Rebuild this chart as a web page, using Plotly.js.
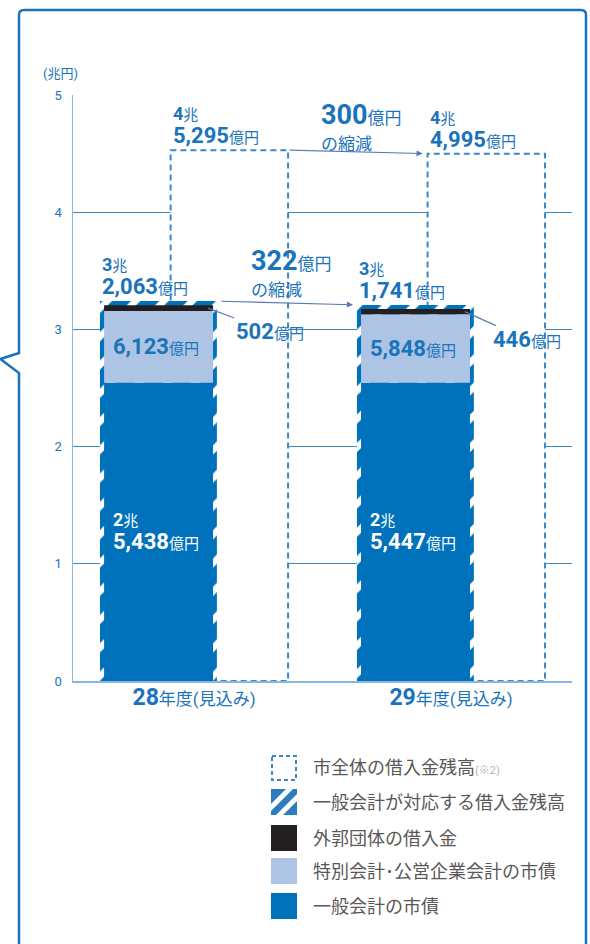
<!DOCTYPE html>
<html><head><meta charset="utf-8">
<script src="https://cdn.plot.ly/plotly-3.0.1.min.js"></script>
<style>html,body{margin:0;padding:0;background:#fff;} #chart{width:590px;height:944px;}</style>
</head><body><div id="chart"></div>
<script>
// ---- data (兆円) ----
const categories = ['28', '29'];
const categorySuffix = '年度(見込み)';
const cityTotal = [4.5295, 4.4995];       // 市全体の借入金残高
const generalBonds = [2.5438, 2.5447];    // 一般会計の市債
const specialBonds = [0.6123, 0.5848];    // 特別会計・公営企業会計の市債
const affiliateLoans = [0.0502, 0.0446];  // 外郭団体の借入金
const yTicks = [0, 1, 2, 3, 4, 5];
const legendLabels = ['市全体の借入金残高', '一般会計が対応する借入金残高', '外郭団体の借入金', '特別会計･公営企業会計の市債', '一般会計の市債'];
const legendNote = '(※2)';
const unitLabel = '(兆円)';

// ---- styles ----
const BLUE = '#0071bb', LIGHT = '#adc4e5', BLACK = '#231f20', TBLUE = '#1a74bb';
const GRID = '#3b87c8', AXIS = '#8ab6e0', ARROW = '#5b79b9', GREY = '#595757';
const FONT = 'Roboto, "Noto Sans CJK JP", sans-serif';
const W = 590, H = 944, PL = 73, PR = 572, PT = 95, PB = 681;
const XR = [-0.471, 1.471];
const hOff = -0.366, hW = 0.455;   // hatched outline bar
const iOff = -0.350, iW = 0.424;   // inner stacked bars
const dOff = -0.091, dW = 0.457;   // dashed total box
const hatchPad = 0.035;

const idx = categories.map((c, i) => i);
const generalTotal = idx.map(i => generalBonds[i] + specialBonds[i] + affiliateLoans[i]);
const baseSpecial = idx.map(i => generalBonds[i]);
const baseAff = idx.map(i => generalBonds[i] + specialBonds[i]);

const px = p => (p - PL) / (PR - PL);
const py = p => (PB - p) / (PB - PT);

function chou(v) { return Math.floor(v + 1e-9); }
function oku(v) { return Math.round((v - chou(v)) * 10000); }
function fmt(n) { return n.toLocaleString('en-US'); }
const S = (size, t, bold) => `<span style="font-size:${size}px">${bold ? '<b>' + t + '</b>' : t}</span>`;
function fullLabel(v, big) {
  return S(18, chou(v), true) + S(15, '兆') + '<br>' + S(big, fmt(oku(v)), true) + S(15, '億円');
}

const traces = [
  { type: 'bar', name: '市全体の借入金残高', x: idx, y: cityTotal, offset: dOff, width: dW,
    marker: { color: 'rgba(255,255,255,0)' }, showlegend: false, hoverinfo: 'y' },
  { type: 'bar', name: '一般会計が対応する借入金残高', x: idx, y: generalTotal.map(v => v + hatchPad),
    customdata: generalTotal, hovertemplate: '%{customdata:.4f}<extra></extra>',
    offset: hOff, width: hW, showlegend: false,
    marker: { color: BLUE, line: { width: 0 }, pattern: { shape: '/', fgcolor: BLUE, bgcolor: '#ffffff', size: 20, solidity: 0.68 } } },
  { type: 'bar', name: '一般会計の市債', x: idx, y: generalBonds, base: 0, offset: iOff, width: iW,
    marker: { color: BLUE, line: { width: 0 } }, showlegend: false },
  { type: 'bar', name: '特別会計・公営企業会計の市債', x: idx, y: specialBonds, base: baseSpecial, offset: iOff, width: iW,
    marker: { color: LIGHT, line: { width: 0 } }, showlegend: false },
  { type: 'bar', name: '外郭団体の借入金', x: idx, y: affiliateLoans, base: baseAff, offset: iOff, width: iW,
    marker: { color: BLACK, line: { width: 0 } }, showlegend: false }
];

const shapes = [];
idx.forEach(i => shapes.push({ type: 'rect', xref: 'x', yref: 'y', layer: 'between',
  x0: i + dOff, x1: i + dOff + dW, y0: 0, y1: cityTotal[i],
  fillcolor: '#ffffff', line: { color: GRID, width: 2, dash: '6px,4px' } }));

// frame with speech notch
const fp = [[19, 980], [19, 373], [0.5, 359], [19, 353], [19, 15]];
let path = 'M ' + fp.map(p => px(p[0]) + ',' + py(p[1])).join(' L ');
path += ` Q ${px(19)},${py(10)} ${px(24)},${py(10)} L ${px(581)},${py(10)} Q ${px(586)},${py(10)} ${px(586)},${py(15)} L ${px(586)},${py(980)}`;
shapes.push({ type: 'path', xref: 'paper', yref: 'paper', path: path, line: { color: '#1a73bc', width: 2.5 } });

// legend icons
const LX0 = 271, LX1 = 297, rows = [755, 789, 825, 858, 893], SZ = 26;
shapes.push({ type: 'rect', xref: 'paper', yref: 'paper', x0: px(LX0 + 1), x1: px(LX1 - 1), y0: py(rows[0] + 1), y1: py(rows[0] + SZ - 1),
  line: { color: '#3a86c8', width: 2, dash: '4px,3px' } });
shapes.push({ type: 'rect', xref: 'paper', yref: 'paper', x0: px(LX0), x1: px(LX1), y0: py(rows[1]), y1: py(rows[1] + SZ),
  fillcolor: '#2f7bc0', line: { width: 0 } });
const band = (pts, r) => 'M ' + pts.map(p => px(LX0 + p[0]) + ',' + py(r + p[1])).join(' L ') + ' Z';
shapes.push({ type: 'path', xref: 'paper', yref: 'paper', path: band([[15, 0], [22, 0], [0, 22], [0, 15]], rows[1]), fillcolor: '#ffffff', line: { width: 0 } });
shapes.push({ type: 'path', xref: 'paper', yref: 'paper', path: band([[26, 5], [26, 12], [12, 26], [5, 26]], rows[1]), fillcolor: '#ffffff', line: { width: 0 } });
[BLACK, LIGHT, BLUE].forEach((c, k) => shapes.push({ type: 'rect', xref: 'paper', yref: 'paper',
  x0: px(LX0), x1: px(LX1), y0: py(rows[k + 2]), y1: py(rows[k + 2] + SZ), fillcolor: c, line: { width: 0 } }));

const ann = [];
const A = o => ann.push(Object.assign({ showarrow: false, align: 'left', xanchor: 'left', yanchor: 'middle',
  font: { family: FONT, size: 18, color: TBLUE } }, o));

A({ xref: 'paper', yref: 'paper', x: px(60), y: py(73), xanchor: 'center', text: unitLabel, font: { family: FONT, size: 13, color: TBLUE } });
legendLabels.forEach((t, k) => A({ xref: 'paper', yref: 'paper', x: px(311), y: py(rows[k] + 13),
  text: t + (k === 0 ? `<span style="font-size:11px;fill:#b5b5b5">${legendNote}</span>` : ''), font: { family: FONT, size: 18, color: GREY } }));

idx.forEach(i => {
  A({ x: i + dOff, y: cityTotal[i], yanchor: 'bottom', yshift: 0, text: fullLabel(cityTotal[i], 22) });
  A({ x: i + hOff, y: generalTotal[i] + hatchPad, yanchor: 'bottom', yshift: 0, text: fullLabel(generalTotal[i], 22) });
  A({ x: i + iOff, y: generalBonds[i] + specialBonds[i] / 2, xshift: 7,
    text: S(22, fmt(Math.round(specialBonds[i] * 10000)), true) + S(15, '億円') });
  A({ x: i + iOff, y: generalBonds[i] / 2, xshift: 7,
    text: S(18, chou(generalBonds[i]), true) + S(15, '兆') + '<br>' + S(22, fmt(oku(generalBonds[i])), true) + S(15, '億円'),
    font: { family: FONT, size: 18, color: '#ffffff' } });
  A({ x: i + iOff + iW - 0.02, y: baseAff[i] + affiliateLoans[i] / 2, xref: 'x', yref: 'y', showarrow: true,
    xanchor: 'center', arrowhead: 0, arrowwidth: 1.2, arrowcolor: ARROW, ax: 62, ay: i === 0 ? 23 : 28, standoff: 0,
    text: S(22, fmt(Math.round(affiliateLoans[i] * 10000)), true) + S(15, '億円') });
});

const dGen = Math.round((generalTotal[0] - generalTotal[1]) * 10000);
const dCity = Math.round((cityTotal[0] - cityTotal[1]) * 10000);
ann.push({ xref: 'x', yref: 'y', axref: 'x', ayref: 'y', x: 1 + hOff, y: generalTotal[1] + hatchPad,
  ax: 0 + hOff + hW, ay: generalTotal[0] + hatchPad, text: '', showarrow: true, arrowhead: 2, arrowsize: 1,
  arrowwidth: 1.2, arrowcolor: ARROW, standoff: 4, startstandoff: 3 });
ann.push({ xref: 'x', yref: 'y', axref: 'x', ayref: 'y', x: 1 + dOff, y: cityTotal[1],
  ax: 0 + dOff + dW, ay: cityTotal[0], text: '', showarrow: true, arrowhead: 2, arrowsize: 1,
  arrowwidth: 1.2, arrowcolor: ARROW, standoff: 5, startstandoff: 0 });
A({ xref: 'paper', yref: 'paper', x: px(249), y: py(243), yanchor: 'top', font: { family: FONT, size: 20, color: TBLUE },
  text: S(27, dGen, true) + S(17, '億円') + '<br>' + S(17, 'の縮減') });
A({ xref: 'paper', yref: 'paper', x: px(319), y: py(97), yanchor: 'top', font: { family: FONT, size: 20, color: TBLUE },
  text: S(27, dCity, true) + S(17, '億円') + '<br>' + S(17, 'の縮減') });

const layout = {
  width: W, height: H, margin: { l: PL, r: W - PR, t: PT, b: H - PB },
  paper_bgcolor: '#ffffff', plot_bgcolor: '#ffffff', barmode: 'overlay', showlegend: false,
  font: { family: FONT, color: TBLUE },
  xaxis: { range: XR, fixedrange: true, showgrid: false, zeroline: false, showline: true, linecolor: AXIS, linewidth: 1.5,
    tickvals: idx, ticktext: categories.map(c => S(23, c, true) + S(17, categorySuffix)), ticks: '', ticklabelstandoff: 2,
    tickfont: { family: FONT, size: 17, color: TBLUE } },
  yaxis: { range: [0, 5], fixedrange: true, tickvals: yTicks, showgrid: true, gridcolor: GRID, gridwidth: 1,
    zeroline: false, showline: true, linecolor: AXIS, linewidth: 1.5, ticks: '', ticklabelstandoff: 7,
    tickfont: { family: FONT, size: 13, color: TBLUE } },
  shapes: shapes, annotations: ann
};
Plotly.newPlot('chart', traces, layout, { displayModeBar: false, staticPlot: true });
</script></body></html>
